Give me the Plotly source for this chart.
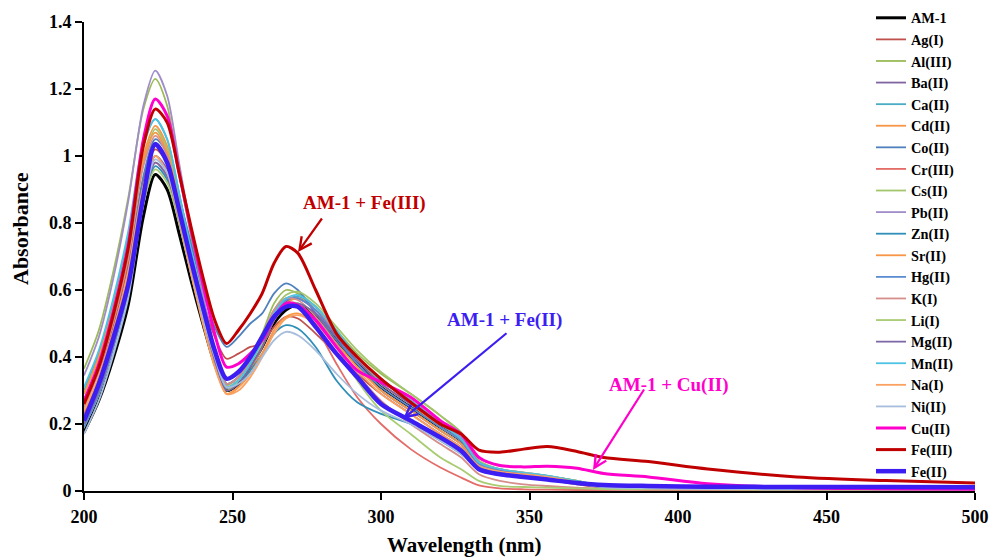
import plotly.graph_objects as go

# Wavelength grid (nm) shared by all spectra
wavelength = [200, 205, 210, 215, 220, 224, 228, 232, 236, 240, 244, 248, 252, 256, 260, 264,
              268, 272, 278, 285, 292, 300, 310, 320, 327, 333, 340, 348, 356, 366, 375, 390,
              410, 440, 470, 500]

am1 = [0.175, 0.27, 0.40, 0.56, 0.82, 0.945, 0.90, 0.77, 0.63, 0.50, 0.38, 0.30, 0.32, 0.37, 0.43, 0.50,
       0.54, 0.555, 0.52, 0.45, 0.38, 0.31, 0.25, 0.19, 0.15, 0.08, 0.06, 0.05, 0.04, 0.025, 0.013, 0.009,
       0.007, 0.006, 0.005, 0.005]
ag = [0.25, 0.36, 0.50, 0.68, 0.93, 1.02, 0.98, 0.85, 0.70, 0.57, 0.46, 0.395, 0.41, 0.43, 0.44, 0.49,
      0.52, 0.515, 0.47, 0.41, 0.35, 0.29, 0.23, 0.17, 0.13, 0.07, 0.05, 0.04, 0.033, 0.02, 0.01, 0.007,
      0.006, 0.005, 0.005, 0.004]
al = [0.365, 0.48, 0.66, 0.88, 1.14, 1.23, 1.15, 0.95, 0.76, 0.58, 0.42, 0.32, 0.34, 0.40, 0.47, 0.56,
      0.60, 0.59, 0.55, 0.48, 0.41, 0.35, 0.29, 0.225, 0.175, 0.09, 0.065, 0.052, 0.044, 0.03, 0.015, 0.01,
      0.008, 0.007, 0.006, 0.006]
ba = [0.22, 0.33, 0.47, 0.64, 0.89, 1.00, 0.96, 0.83, 0.68, 0.54, 0.41, 0.32, 0.34, 0.39, 0.45, 0.52,
      0.565, 0.575, 0.54, 0.47, 0.40, 0.33, 0.27, 0.20, 0.155, 0.08, 0.06, 0.05, 0.042, 0.027, 0.014, 0.009,
      0.007, 0.006, 0.005, 0.005]
ca = [0.30, 0.41, 0.57, 0.77, 1.03, 1.11, 1.05, 0.89, 0.72, 0.56, 0.41, 0.31, 0.33, 0.38, 0.45, 0.53,
      0.57, 0.58, 0.55, 0.47, 0.40, 0.33, 0.27, 0.20, 0.155, 0.085, 0.065, 0.055, 0.045, 0.03, 0.015, 0.01,
      0.008, 0.007, 0.006, 0.006]
cd = [0.29, 0.40, 0.55, 0.74, 1.00, 1.09, 1.03, 0.87, 0.70, 0.54, 0.39, 0.29, 0.31, 0.36, 0.43, 0.51,
      0.56, 0.575, 0.55, 0.47, 0.40, 0.32, 0.26, 0.19, 0.15, 0.085, 0.065, 0.055, 0.045, 0.03, 0.014, 0.009,
      0.007, 0.006, 0.005, 0.005]
co = [0.22, 0.33, 0.48, 0.66, 0.94, 1.05, 1.01, 0.88, 0.74, 0.60, 0.49, 0.43, 0.46, 0.50, 0.53, 0.59,
      0.62, 0.60, 0.53, 0.45, 0.38, 0.30, 0.24, 0.18, 0.14, 0.075, 0.055, 0.045, 0.038, 0.025, 0.012, 0.008,
      0.006, 0.005, 0.005, 0.005]
cr = [0.23, 0.34, 0.48, 0.65, 0.88, 0.98, 0.94, 0.81, 0.66, 0.52, 0.39, 0.31, 0.33, 0.38, 0.44, 0.51,
      0.555, 0.555, 0.49, 0.38, 0.28, 0.20, 0.125, 0.07, 0.04, 0.017, 0.008, 0.005, 0.004, 0.003, 0.003, 0.003,
      0.002, 0.002, 0.002, 0.002]
cs = [0.27, 0.38, 0.53, 0.72, 0.98, 1.08, 1.02, 0.87, 0.71, 0.55, 0.41, 0.315, 0.34, 0.39, 0.46, 0.54,
      0.585, 0.595, 0.56, 0.49, 0.42, 0.355, 0.29, 0.225, 0.17, 0.09, 0.065, 0.052, 0.044, 0.03, 0.015, 0.01,
      0.008, 0.007, 0.006, 0.006]
pb = [0.345, 0.46, 0.64, 0.87, 1.15, 1.255, 1.18, 0.98, 0.78, 0.59, 0.42, 0.31, 0.33, 0.39, 0.46, 0.54,
      0.575, 0.575, 0.54, 0.47, 0.40, 0.335, 0.27, 0.205, 0.16, 0.085, 0.062, 0.05, 0.042, 0.028, 0.014, 0.009,
      0.007, 0.006, 0.005, 0.005]
zn = [0.20, 0.30, 0.44, 0.60, 0.86, 0.97, 0.93, 0.80, 0.65, 0.51, 0.39, 0.31, 0.32, 0.36, 0.41, 0.47,
      0.495, 0.485, 0.43, 0.33, 0.265, 0.23, 0.20, 0.15, 0.11, 0.065, 0.05, 0.042, 0.035, 0.022, 0.011, 0.008,
      0.006, 0.005, 0.005, 0.005]
sr = [0.29, 0.40, 0.55, 0.74, 0.99, 1.07, 1.01, 0.86, 0.69, 0.53, 0.38, 0.29, 0.31, 0.35, 0.41, 0.48,
      0.52, 0.53, 0.50, 0.44, 0.37, 0.30, 0.24, 0.18, 0.14, 0.08, 0.062, 0.052, 0.043, 0.028, 0.013, 0.008,
      0.006, 0.005, 0.005, 0.005]
hg = [0.19, 0.29, 0.43, 0.60, 0.88, 1.04, 0.99, 0.85, 0.69, 0.54, 0.41, 0.32, 0.34, 0.39, 0.45, 0.53,
      0.57, 0.575, 0.54, 0.46, 0.38, 0.31, 0.25, 0.19, 0.15, 0.08, 0.06, 0.05, 0.04, 0.026, 0.012, 0.008,
      0.006, 0.005, 0.005, 0.005]
k = [0.25, 0.36, 0.51, 0.70, 0.97, 1.06, 1.00, 0.86, 0.70, 0.55, 0.41, 0.32, 0.34, 0.39, 0.46, 0.54,
     0.575, 0.57, 0.52, 0.44, 0.35, 0.27, 0.20, 0.14, 0.10, 0.05, 0.03, 0.02, 0.015, 0.01, 0.006, 0.005,
     0.005, 0.004, 0.004, 0.004]
li = [0.22, 0.32, 0.46, 0.62, 0.86, 0.96, 0.92, 0.80, 0.65, 0.51, 0.39, 0.30, 0.33, 0.38, 0.44, 0.52,
      0.56, 0.56, 0.51, 0.43, 0.33, 0.24, 0.17, 0.10, 0.065, 0.03, 0.015, 0.012, 0.01, 0.008, 0.006, 0.005,
      0.005, 0.004, 0.004, 0.004]
mg = [0.20, 0.30, 0.44, 0.61, 0.87, 0.98, 0.94, 0.81, 0.66, 0.52, 0.39, 0.30, 0.32, 0.37, 0.43, 0.51,
      0.55, 0.56, 0.53, 0.46, 0.39, 0.32, 0.26, 0.20, 0.155, 0.085, 0.063, 0.052, 0.043, 0.028, 0.014, 0.009,
      0.007, 0.006, 0.005, 0.005]
mn = [0.31, 0.42, 0.58, 0.78, 1.04, 1.11, 1.05, 0.89, 0.72, 0.56, 0.41, 0.31, 0.33, 0.38, 0.45, 0.53,
      0.575, 0.585, 0.55, 0.48, 0.40, 0.33, 0.27, 0.20, 0.155, 0.085, 0.065, 0.055, 0.046, 0.03, 0.015, 0.01,
      0.008, 0.007, 0.006, 0.006]
na = [0.24, 0.34, 0.48, 0.66, 0.91, 1.00, 0.95, 0.81, 0.65, 0.50, 0.37, 0.29, 0.30, 0.34, 0.40, 0.47,
      0.515, 0.525, 0.50, 0.43, 0.36, 0.29, 0.23, 0.17, 0.13, 0.075, 0.058, 0.05, 0.042, 0.027, 0.013, 0.008,
      0.006, 0.005, 0.005, 0.005]
ni = [0.17, 0.27, 0.41, 0.58, 0.86, 0.99, 0.95, 0.82, 0.67, 0.52, 0.40, 0.31, 0.32, 0.35, 0.40, 0.45,
      0.475, 0.465, 0.42, 0.35, 0.29, 0.24, 0.20, 0.15, 0.11, 0.065, 0.05, 0.043, 0.036, 0.023, 0.011, 0.008,
      0.006, 0.005, 0.005, 0.005]
cu = [0.27, 0.38, 0.54, 0.74, 1.05, 1.17, 1.12, 0.95, 0.78, 0.62, 0.47, 0.37, 0.38, 0.41, 0.45, 0.52,
      0.56, 0.555, 0.51, 0.43, 0.36, 0.325, 0.28, 0.21, 0.17, 0.10, 0.076, 0.072, 0.074, 0.068, 0.052, 0.042,
      0.022, 0.01, 0.007, 0.005]
fe3 = [0.26, 0.37, 0.53, 0.73, 1.03, 1.14, 1.10, 0.95, 0.79, 0.64, 0.51, 0.44, 0.48, 0.53, 0.59, 0.68,
       0.73, 0.71, 0.60, 0.47, 0.40, 0.335, 0.265, 0.20, 0.17, 0.122, 0.116, 0.125, 0.133, 0.118, 0.10, 0.088,
       0.066, 0.042, 0.031, 0.024]
fe2 = [0.21, 0.32, 0.46, 0.62, 0.88, 1.035, 0.98, 0.84, 0.69, 0.55, 0.42, 0.335, 0.355, 0.40, 0.46, 0.52,
       0.55, 0.55, 0.49, 0.41, 0.34, 0.26, 0.21, 0.16, 0.12, 0.065, 0.05, 0.042, 0.034, 0.024, 0.018, 0.015,
       0.013, 0.012, 0.012, 0.011]

names = ["AM-1", "Ag(I)", "Al(III)", "Ba(II)", "Ca(II)", "Cd(II)", "Co(II)", "Cr(III)", "Cs(II)",
         "Pb(II)", "Zn(II)", "Sr(II)", "Hg(II)", "K(I)", "Li(I)", "Mg(II)", "Mn(II)", "Na(I)",
         "Ni(II)", "Cu(II)", "Fe(III)", "Fe(II)"]
spectra = [am1, ag, al, ba, ca, cd, co, cr, cs, pb, zn, sr, hg, k, li, mg, mn, na, ni, cu, fe3, fe2]
colors = ["#000000", "#C0504D", "#9BBB59", "#8064A2", "#4BACC6", "#F79646", "#4F81BD", "#E46C68",
          "#A3C56B", "#9F8CC8", "#2F8FB8", "#F79646", "#5B8BD0", "#D58E8A", "#A9CC72", "#7E68A8",
          "#4DC3E3", "#FBA262", "#A6BDDD", "#FF00CC", "#C00000", "#3C1EF2"]
widths = [3, 1.8, 1.8, 1.8, 1.8, 1.8, 1.8, 1.8, 1.8, 1.8, 1.8, 1.8, 1.8, 1.8, 1.8, 1.8, 1.8, 1.8,
          1.8, 3, 3, 4.5]

FONT = "Liberation Serif"

fig = go.Figure()
for name, ys, col, w in zip(names, spectra, colors, widths):
    fig.add_trace(go.Scatter(
        x=wavelength, y=ys, mode="lines", name=f"<b>{name}</b>",
        line=dict(color=col, width=w, shape="spline", smoothing=0.8),
    ))


def px_to_data(px, py):
    return 200 + (px - 84) / 2.97, (491 - py) / 335


# Callout arrows and labels
callouts = [
    ("AM-1 + Fe(III)", "#C00000", (364, 203), (323, 217), (298, 252)),
    ("AM-1 + Fe(II)", "#3C1EF2", (504, 320), (508, 332), (403, 419)),
    ("AM-1 + Cu(II)", "#FF00CC", (669, 385), (645, 388), (593, 470)),
]
for text, col, tpos, tail, tip in callouts:
    tx, ty = px_to_data(*tpos)
    ax_, ay_ = px_to_data(*tail)
    hx, hy = px_to_data(*tip)
    fig.add_annotation(x=hx, y=hy, ax=ax_, ay=ay_, xref="x", yref="y", axref="x", ayref="y",
                       text="", showarrow=True, arrowhead=5, arrowsize=1.1, arrowwidth=2.2,
                       arrowcolor=col)
    fig.add_annotation(x=tx, y=ty, xref="x", yref="y", text=f"<b>{text}</b>", showarrow=False,
                       xanchor="center", yanchor="middle",
                       font=dict(family=FONT, size=19, color=col))

# Axis titles
fig.add_annotation(x=(20 - 84) / 891, y=(491 - 229) / 469, xref="paper", yref="paper",
                   text="<b>Absorbance</b>", textangle=-90, showarrow=False,
                   xanchor="center", yanchor="middle",
                   font=dict(family=FONT, size=22, color="black"))
fig.add_annotation(x=(464 - 84) / 891, y=(491 - 545) / 469, xref="paper", yref="paper",
                   text="<b>Wavelength (nm)</b>", showarrow=False,
                   xanchor="center", yanchor="middle",
                   font=dict(family=FONT, size=21, color="black"))

axis_common = dict(showline=True, linecolor="black", linewidth=2, ticks="outside", ticklen=7,
                   tickwidth=2, tickcolor="black", showgrid=False, zeroline=False,
                   tickfont=dict(family=FONT, size=18, color="black", weight="bold"))

fig.update_layout(
    width=991, height=559,
    margin=dict(l=84, r=16, t=22, b=68, autoexpand=False),
    paper_bgcolor="white", plot_bgcolor="white",
    xaxis=dict(range=[200, 500], tickvals=[200, 250, 300, 350, 400, 450, 500],
               ticklabelstandoff=1, **axis_common),
    yaxis=dict(range=[0, 1.4], tickvals=[0, 0.2, 0.4, 0.6, 0.8, 1.0, 1.2, 1.4],
               ticktext=["0", "0.2", "0.4", "0.6", "0.8", "1", "1.2", "1.4"], **axis_common),
    legend=dict(x=(871 - 84) / 891, y=(491 - 2) / 469, xanchor="left", yanchor="top",
                bgcolor="rgba(0,0,0,0)", font=dict(family=FONT, size=14.3, color="black"),
                tracegroupgap=0, itemwidth=30, maxheight=1),
    showlegend=True,
)

fig.write_html("out.html")
